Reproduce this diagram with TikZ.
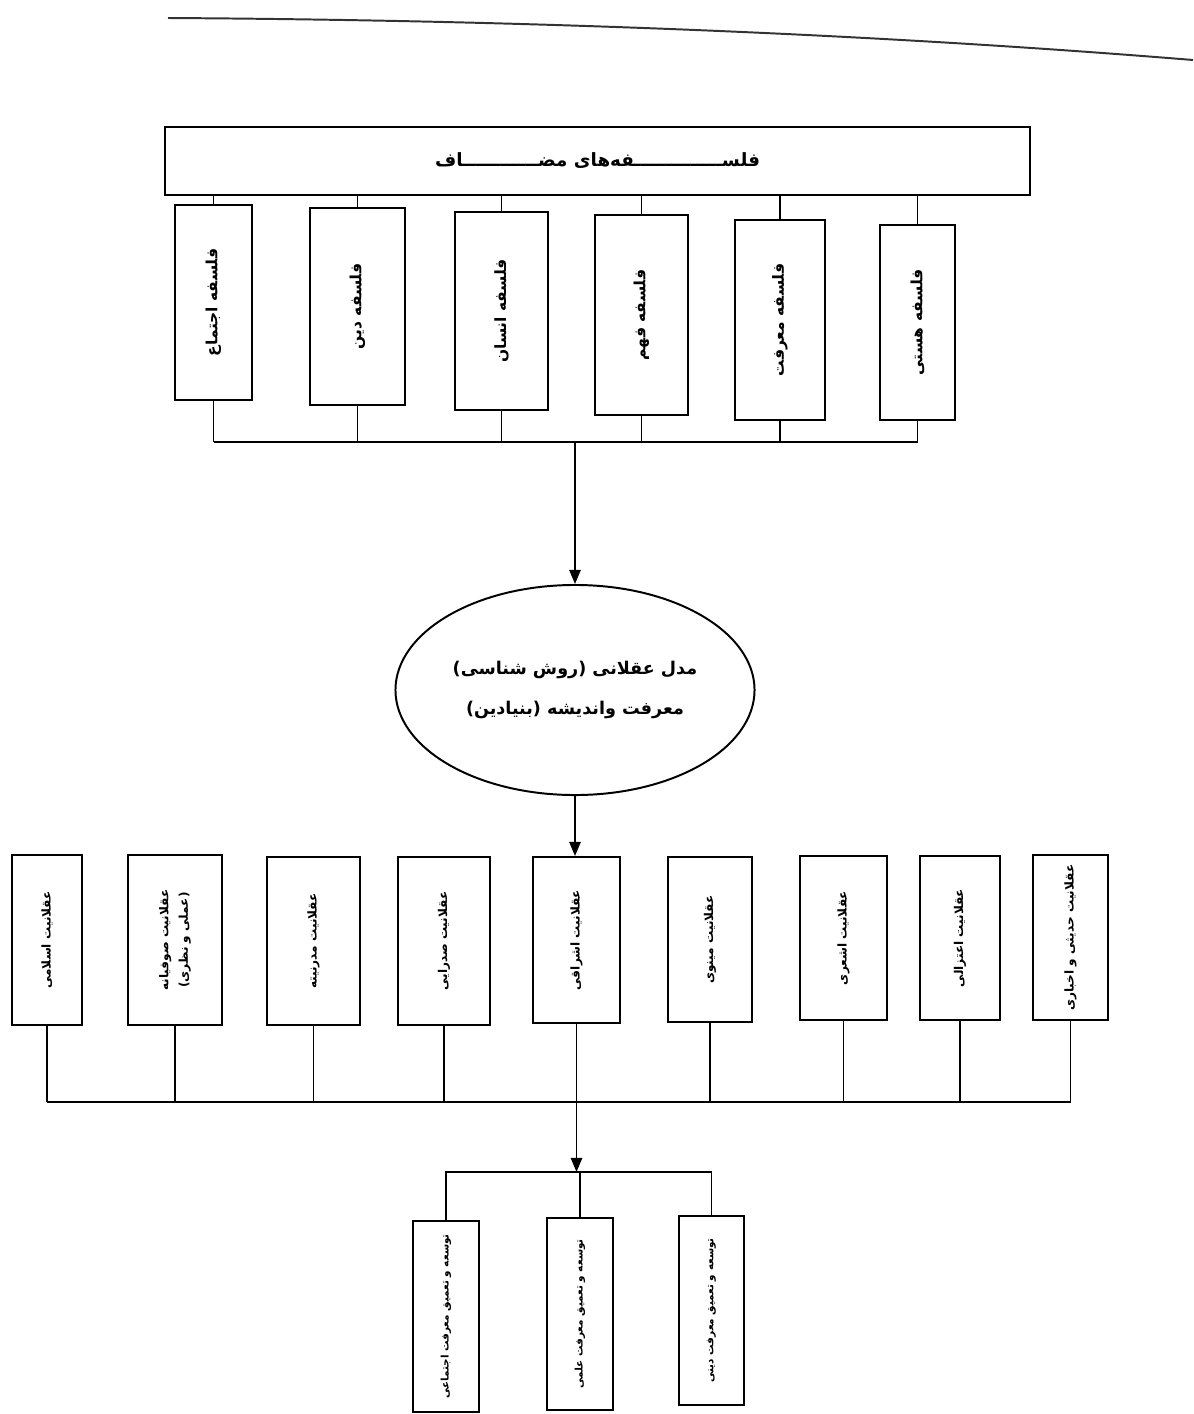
\documentclass[tikz,border=0pt]{standalone}
\usepackage{fontspec}
\TeXXeTstate=1
\newfontfamily\fa[Script=Arabic]{DejaVu Sans}
\usetikzlibrary{shapes.geometric,arrows.meta,fit}
\tikzset{
  line/.style={line width=1.4pt, black},
  box/.style={draw, line width=1.4pt, rectangle, inner sep=0pt, fill=white},
  arr/.style={line width=1.4pt, -{Triangle[length=10pt,width=8pt]}},
  ttxt/.style={rotate=90, font=\fa\bfseries\fontsize{11}{14}\selectfont, align=center},
  mtxt/.style={rotate=90, font=\fa\bfseries\fontsize{8.6}{14}\selectfont, align=center},
  btxt/.style={rotate=90, font=\fa\bfseries\fontsize{7.4}{10}\selectfont, align=center},
}
\begin{document}
\begin{tikzpicture}[x=0.025cm,y=-0.025cm]
\useasboundingbox (0,0) rectangle (1193,1414);
% page rule
\coordinate (r1) at (168,18);
\coordinate (r2) at (1193,60);
\draw[line width=1.4pt, black!80] (r1) .. controls (500,20) and (850,32) .. (r2);
% top box
\node[box, fit={(165,127) (1030,195)}] (top) {};
\node[font=\fa\bfseries\fontsize{13}{15}\selectfont] at (top.center) {\beginR فلســــــــــــــفه‌های مضــــــــــــاف\endR};
% six boxes
\node[box, fit={(175,205) (252,400)}] (t1) {};
\node[box, fit={(310,208) (405,405)}] (t2) {};
\node[box, fit={(455,212) (548,410)}] (t3) {};
\node[box, fit={(595,215) (688,415)}] (t4) {};
\node[box, fit={(735,220) (825,420)}] (t5) {};
\node[box, fit={(880,225) (955,420)}] (t6) {};
\node[ttxt] (t1l) at (t1.center) {\beginR فلسفه اجتماع\endR};
\node[ttxt] (t2l) at (t2.center) {\beginR فلسفه دین\endR};
\node[ttxt] (t3l) at (t3.center) {\beginR فلسفه انسان\endR};
\node[ttxt] (t4l) at (t4.center) {\beginR فلسفه فهم\endR};
\node[ttxt] (t5l) at (t5.center) {\beginR فلسفه معرفت\endR};
\node[ttxt] (t6l) at (t6.center) {\beginR فلسفه هستی\endR};
\foreach \n in {t1,t2,t3,t4,t5,t6} \draw[line] (\n.north) -- (\n.north |- top.south);
\coordinate (busA) at (575,442);
\foreach \n in {t1,t2,t3,t4,t5,t6} \draw[line] (\n.south) -- (\n.south |- busA);
\draw[line] (t1.south |- busA) -- (t6.south |- busA);
% ellipse
\node[draw, line width=1.4pt, ellipse, minimum width=8.75cm, minimum height=5.25cm, align=center,
  font=\fa\bfseries\fontsize{12.5}{28}\selectfont] (el) at (575,690)
  {\beginR مدل عقلانی (روش شناسی)\endR\\\beginR معرفت واندیشه (بنیادین)\endR};
\draw[arr] (busA) -- (el.north);
% nine boxes
\node[box, fit={(12,855) (82,1025)}] (n1) {};
\node[box, fit={(128,855) (222,1025)}] (n2) {};
\node[box, fit={(267,857) (360,1025)}] (n3) {};
\node[box, fit={(398,857) (490,1025)}] (n4) {};
\node[box, fit={(533,857) (620,1023)}] (n5) {};
\node[box, fit={(668,857) (752,1022)}] (n6) {};
\node[box, fit={(800,856) (887,1020)}] (n7) {};
\node[box, fit={(920,856) (1000,1020)}] (n8) {};
\node[box, fit={(1033,855) (1108,1020)}] (n9) {};
\node[mtxt] at (n1.center) {\beginR عقلانیت اسلامی\endR};
\node[mtxt] at (n2.center) {\beginR عقلانیت صوفیانه\endR\\\beginR (عملی و نظری)\endR};
\node[mtxt] at (n3.center) {\beginR عقلانیت مدرنیته\endR};
\node[mtxt] at (n4.center) {\beginR عقلانیت صدرایی\endR};
\node[mtxt] at (n5.center) {\beginR عقلانیت اشراقی\endR};
\node[mtxt] at (n6.center) {\beginR عقلانیت مینوی\endR};
\node[mtxt] at (n7.center) {\beginR عقلانیت اشعری\endR};
\node[mtxt] at (n8.center) {\beginR عقلانیت اعتزالی\endR};
\node[mtxt] at (n9.center) {\beginR عقلانیت حدیثی و اخباری\endR};
\draw[arr] (el.south) -- (el.south |- n5.north);
\coordinate (busB) at (0,1102);
\foreach \n in {n1,n2,n3,n4,n6,n7,n8,n9} \draw[line] (\n.south) -- (\n.south |- busB);
\draw[line] (n1.south |- busB) -- (n9.south |- busB);
% bottom boxes
\node[box, fit={(413,1221) (479,1412)}] (b1) {};
\node[box, fit={(547,1218) (613,1410)}] (b2) {};
\node[box, fit={(679,1216) (744,1405)}] (b3) {};
\node[btxt] at (b1.center) {\beginR توسعه و تعمیق معرفت اجتماعی\endR};
\node[btxt] at (b2.center) {\beginR توسعه و تعمیق معرفت علمی\endR};
\node[btxt] at (b3.center) {\beginR توسعه و تعمیق معرفت دینی\endR};
\coordinate (barC) at (0,1172);
\draw[arr] (n5.south) -- (n5.south |- barC);
\draw[line] (b1.north) -- (b1.north |- barC) -- (b3.north |- barC) -- (b3.north);
\draw[line] (b2.north) -- (b2.north |- barC);
\end{tikzpicture}
\end{document}
